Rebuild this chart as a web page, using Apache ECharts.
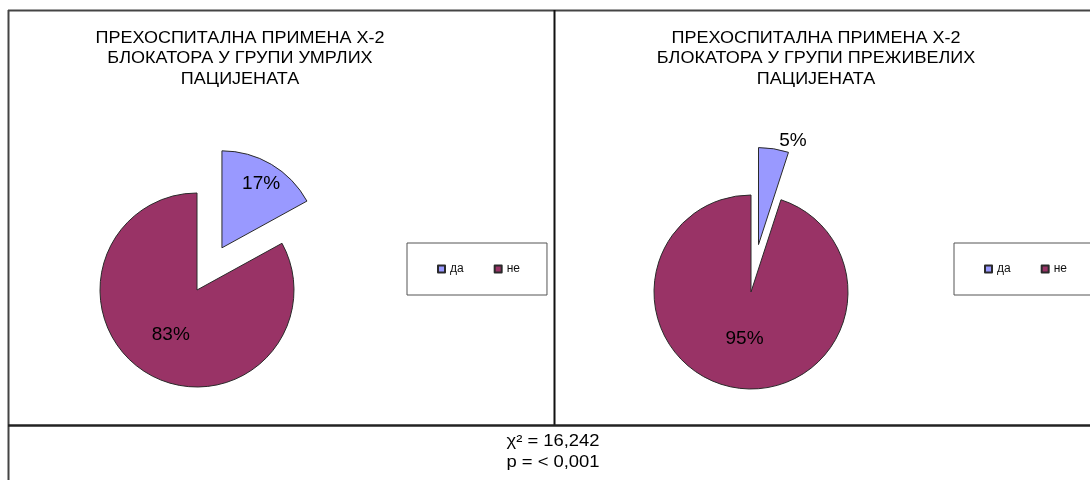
<!DOCTYPE html>
<html><head><meta charset="utf-8">
<script src="https://cdn.jsdelivr.net/npm/echarts@6/dist/echarts.min.js"></script>
<style>html,body{margin:0;padding:0;background:#fff}#c{width:1090px;height:480px}</style>
</head><body><div id="c"></div>
<script>
// ---- data ----
const categories = ['да', 'не'];
const deceasedValues = [17, 83];   // група умрлих, %
const survivorValues = [5, 95];    // група преживелих, %
const titleLeft = 'ПРЕХОСПИТАЛНА ПРИМЕНА Х-2\nБЛОКАТОРА У ГРУПИ УМРЛИХ\nПАЦИЈЕНАТА';
const titleRight = 'ПРЕХОСПИТАЛНА ПРИМЕНА Х-2\nБЛОКАТОРА У ГРУПИ ПРЕЖИВЕЛИХ\nПАЦИЈЕНАТА';
const statsLines = ['χ² = 16,242', 'p = < 0,001'];

// ---- styles ----
const colors = ['#9999ff', '#993366'];
const FONT = '"Liberation Sans", Arial, sans-serif';
const labelStyle = { color: '#000', fontSize: 19, fontFamily: FONT };

function mainPie(values, center, offset, showBigLabel) {
  return {
    type: 'pie', center: center, radius: 97, startAngle: 90, clockwise: true,
    selectedMode: 'multiple', selectedOffset: offset, silent: true, animation: false,
    avoidLabelOverlap: false,
    itemStyle: { borderColor: '#2a2a2a', borderWidth: 1 },
    label: Object.assign({ show: true, position: 'inside', formatter: '{c}%' }, labelStyle),
    labelLine: { show: false },
    emphasis: { disabled: true },
    data: categories.map((n, i) => ({
      name: n, value: values[i], selected: i === 0,
      itemStyle: { color: colors[i] },
      label: { show: i === 1 && showBigLabel }
    }))
  };
}
// label-only overlay (transparent sectors) placing a slice's label at another radius
function labelPie(values, center, offset, radius, pad, which) {
  return {
    type: 'pie', center: center, radius: radius, startAngle: 90, clockwise: true,
    selectedMode: 'multiple', selectedOffset: offset, silent: true, animation: false,
    avoidLabelOverlap: false, legendHoverLink: false,
    itemStyle: { color: 'rgba(0,0,0,0)', borderWidth: 0 },
    label: Object.assign({ show: true, position: 'inside', formatter: '{c}%', padding: pad }, labelStyle),
    labelLine: { show: false },
    emphasis: { disabled: true },
    data: categories.map((n, i) => ({
      name: n, value: values[i], selected: i === 0,
      label: { show: i === which }
    }))
  };
}
function legendAt(left) {
  return {
    left: left, top: 243, width: 300, orient: 'horizontal', data: categories, selectedMode: false,
    padding: [20, 27, 20, 30], borderColor: '#555', borderWidth: 1,
    itemWidth: 7, itemHeight: 7, itemGap: 30, icon: 'rect',
    textStyle: { fontSize: 12, color: '#111', fontFamily: FONT }
  };
}
function textEl(x, y, text, size, lh, sx) {
  return { type: 'text', x: x, y: y, scaleX: sx, silent: true,
    style: { text: text, x: 0, y: 0, align: 'center', verticalAlign: 'top',
      fontSize: size, fontFamily: FONT, lineHeight: lh, fill: '#000' } };
}
const chart = echarts.init(document.getElementById('c'), null, { renderer: 'canvas' });
chart.setOption({
  backgroundColor: '#ffffff',
  animation: false,
  legend: [legendAt(407), legendAt(954)],
  series: [
    mainPie(deceasedValues, [197, 290], 49, true),
    mainPie(survivorValues, [751, 292], 48, false),
    labelPie(deceasedValues, [197, 290], 49, 142, [0, 0, 0, 3], 0),
    labelPie(survivorValues, [751, 292], 48, 205, [0, 0, 0, 36], 0),
    labelPie(survivorValues, [751, 292], 48, 89, [0, 0, 0, 2], 1)
  ],
  graphic: [
    { type: 'line', silent: true, shape: { x1: 8, y1: 10.5, x2: 1090, y2: 10.5 }, style: { stroke: '#444', lineWidth: 2 } },
    { type: 'line', silent: true, shape: { x1: 8.5, y1: 10, x2: 8.5, y2: 480 }, style: { stroke: '#444', lineWidth: 2 } },
    { type: 'line', silent: true, shape: { x1: 554.5, y1: 10, x2: 554.5, y2: 425 }, style: { stroke: '#111', lineWidth: 2 } },
    { type: 'line', silent: true, shape: { x1: 8, y1: 425.5, x2: 1090, y2: 425.5 }, style: { stroke: '#222', lineWidth: 2.5 } },
    textEl(240, 28, titleLeft, 17, 20.5, 1.06),
    textEl(816, 28, titleRight, 17, 20.5, 1.06),
    textEl(553, 431, statsLines.join('\n'), 16, 21, 1.15)
  ]
});
</script></body></html>
